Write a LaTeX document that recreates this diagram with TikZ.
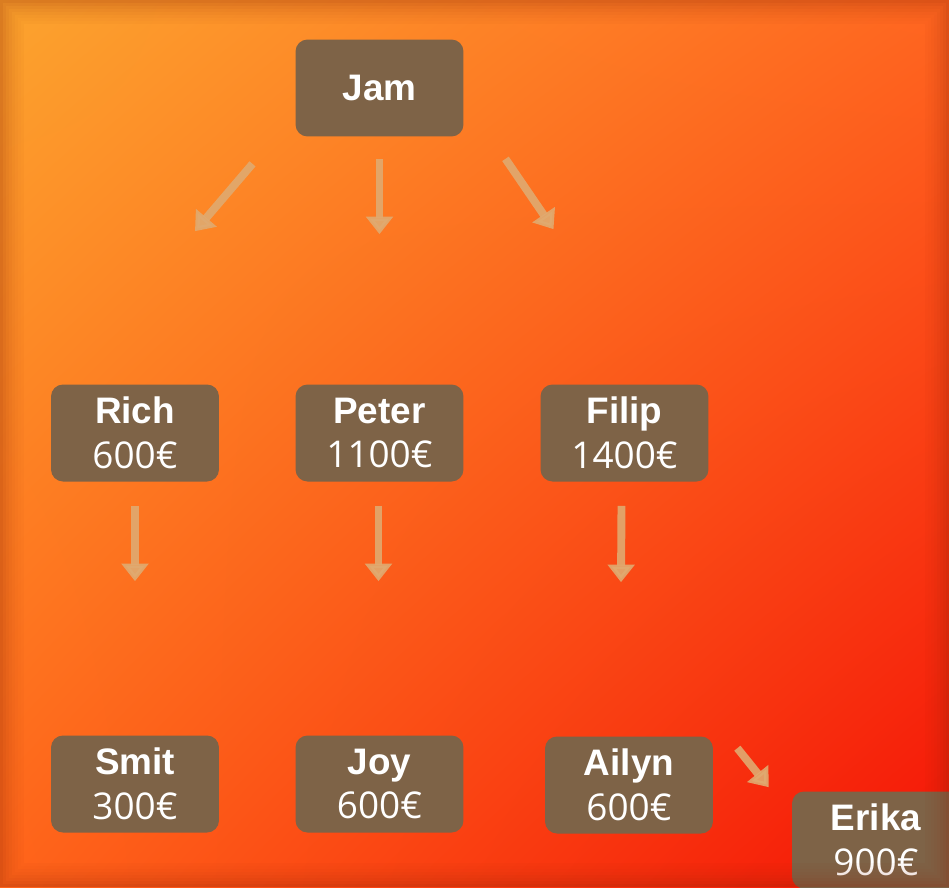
\documentclass[tikz,border=0pt]{standalone}
\usepackage{fontspec}
\usepackage{tikz}
\usetikzlibrary{arrows.meta,shadings}

\newfontfamily\namefont{Liberation Sans}
\newfontfamily\valfont{Open Sans}

\definecolor{boxbrown}{RGB}{126,99,71}
\definecolor{arrowtan}{RGB}{224,170,112}
\definecolor{bgtl}{RGB}{252,164,46}
\definecolor{bgtr}{RGB}{255,102,32}
\definecolor{bgbl}{RGB}{255,100,26}
\definecolor{bgbr}{RGB}{244,18,6}
\definecolor{rim}{RGB}{140,35,5}

\tikzset{
  person/.style={rectangle, rounded corners=0.24cm, fill=boxbrown, text=white,
    minimum width=3.36cm, minimum height=1.94cm, inner sep=0pt, align=center,
    font=\fontsize{21}{25.5}\selectfont},
  link/.style={draw=arrowtan, opacity=0.9, line width=4.5pt,
    -{Triangle[width=15pt,length=10pt]}},
  rimline/.style={draw=rim, line width=1.8pt}
}

\begin{document}
\begin{tikzpicture}[x=0.02cm, y=-0.02cm]

    \useasboundingbox (0,0) rectangle (949,887);
    \clip (0,0) rectangle (949,887);

    % background
    \shade[upper left=bgtl, upper right=bgtr, lower left=bgbl, lower right=bgbr]
      (0,0) rectangle (949,887);

    \node[person] (jam) at (379.5, 88) {{\namefont\bfseries Jam}};

    \node[person] (rich)  at (135, 433)   {{\namefont\bfseries Rich}\\{\valfont 600€}};
    \node[person] (peter) at (379.5, 433) {{\namefont\bfseries Peter}\\{\valfont 1100€}};
    \node[person] (filip) at (624.5, 433) {{\namefont\bfseries Filip}\\{\valfont 1400€}};

    \node[person] (smit)  at (135, 784)   {{\namefont\bfseries Smit}\\{\valfont 300€}};
    \node[person] (joy)   at (379.5, 784) {{\namefont\bfseries Joy}\\{\valfont 600€}};
    \node[person] (ailyn) at (629, 785)   {{\namefont\bfseries Ailyn}\\{\valfont 600€}};
    \node[person] (erika) at (876, 840)   {{\namefont\bfseries Erika}\\{\valfont 900€}};

    \draw[link] ([shift={(-127,27)}]jam.south) -- ([shift={(60,-153)}]rich.north);
    \draw[link] ([shift={(0,22)}]jam.south) -- ([shift={(0,-150)}]peter.north);
    \draw[link] ([shift={(126,22)}]jam.south) -- ([shift={(-71,-155)}]filip.north);

    \draw[link] ([shift={(0,24)}]rich.south) -- ([shift={(0,-154)}]smit.north);
    \draw[link] ([shift={(-1,24)}]peter.south) -- ([shift={(-1,-154)}]joy.north);
    \draw[link] ([shift={(-3,24)}]filip.south) -- ([shift={(-8,-154)}]ailyn.north);

    \draw[link] ([shift={(24,12)}]ailyn.north east) -- ([shift={(-23,-4)}]erika.north west);

    % dark rim round the edge
    \draw[rimline, opacity=0.30] (1.5,1.5) rectangle (947.5,885.5);
    \draw[rimline, opacity=0.24] (4.5,4.5) rectangle (944.5,882.5);
    \draw[rimline, opacity=0.19] (7.5,7.5) rectangle (941.5,879.5);
    \draw[rimline, opacity=0.15] (10.5,10.5) rectangle (938.5,876.5);
    \draw[rimline, opacity=0.11] (13.5,13.5) rectangle (935.5,873.5);
    \draw[rimline, opacity=0.08] (16.5,16.5) rectangle (932.5,870.5);
    \draw[rimline, opacity=0.05] (19.5,19.5) rectangle (929.5,867.5);
    \draw[rimline, opacity=0.03] (22.5,22.5) rectangle (926.5,864.5);

  \end{tikzpicture}
\end{document}
